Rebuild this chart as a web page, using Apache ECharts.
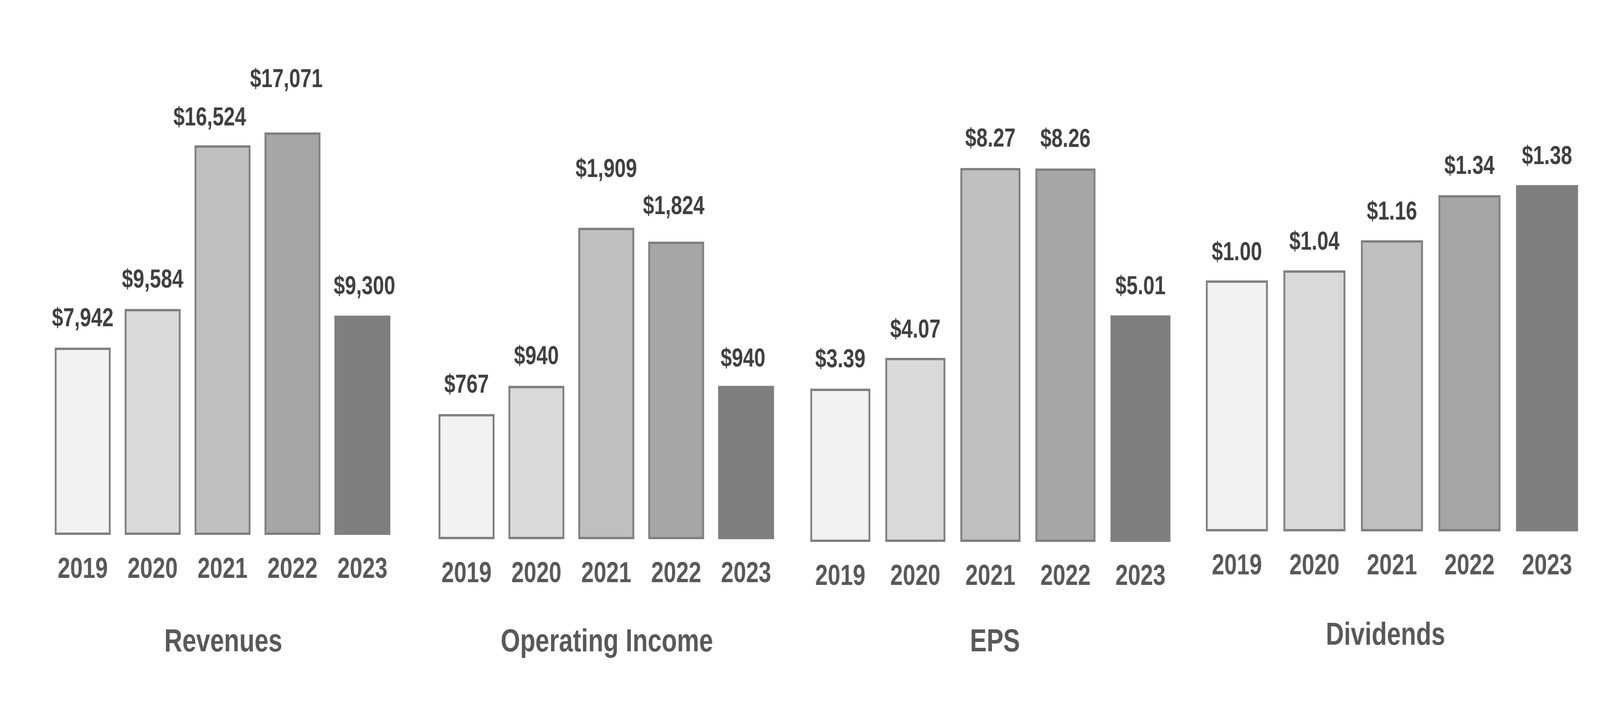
<!DOCTYPE html>
<html>
<head>
<meta charset="utf-8">
<script src="https://cdn.jsdelivr.net/npm/echarts/dist/echarts.min.js"></script>
<style>
  html, body { margin: 0; padding: 0; background: #ffffff; overflow: hidden; }
  #chart { position: absolute; left: 0; top: 0; width: 5252px; height: 1853px; transform-origin: 0 0; }
</style>
</head>
<body>
<div id="chart"></div>
<script>
// ---- data ----
const years = ['2019', '2020', '2021', '2022', '2023'];
const revenues = [7942, 9584, 16524, 17071, 9300];
const operatingIncome = [767, 940, 1909, 1824, 940];
const eps = [3.39, 4.07, 8.27, 8.26, 5.01];
const dividends = [1.00, 1.04, 1.16, 1.34, 1.38];
const panelTitles = ['Revenues', 'Operating Income', 'EPS', 'Dividends'];

// ---- styling / layout (designed for a 5252 x 1853 canvas) ----
const barColors = ['#f2f2f2', '#d9d9d9', '#bfbfbf', '#a6a6a6', '#7f7f7f'];
const FONT = '"Liberation Sans", Arial, Helvetica, sans-serif';
const W0 = 5252, H0 = 1853;

const fmtThousands = v => '$' + v.toLocaleString('en-US');
const fmtCents = v => '$' + v.toFixed(2);

const panels = [
  { values: revenues, fmt: fmtThousands, grid: { left: 156.75, width: 1147.5, top: 339, height: 1030 },
    titleX: 728, titleTop: 1598,
    labelOffsets: [[0, 0], [0, 0], [-42, 4], [-20, -61], [7, 0]] },
  { values: operatingIncome, fmt: fmtThousands, grid: { left: 1416.6, width: 1147, top: 583, height: 797 },
    titleX: 1987, titleTop: 1598,
    labelOffsets: [[0, 0], [0, -1], [0, -75], [-8, -16], [-10, 5]] },
  { values: eps, fmt: fmtCents, grid: { left: 2635.2, width: 1231.5, top: 430, height: 957 },
    titleX: 3261, titleTop: 1598,
    labelOffsets: [[0, 0], [0, 3], [0, 0], [0, 0], [0, 1]] },
  { values: dividends, fmt: fmtCents, grid: { left: 3932.75, width: 1272.5, top: 473.7, height: 886.3 },
    titleX: 4543, titleTop: 1581,
    labelOffsets: [[0, 3], [0, 2], [0, 2], [0, 0], [0, 1]] }
];

// The viewport may be narrower than the design size; scale the whole chart to fit it.
const el = document.getElementById('chart');
const vw = window.innerWidth || W0, vh = window.innerHeight || H0;
const sx = Math.min(1, vw / W0), sy = Math.min(1, vh / H0);
el.style.transform = 'scale(' + sx + ',' + sy + ')';

const grids = [], xAxes = [], yAxes = [], series = [], titles = [];

panels.forEach((p, i) => {
  grids.push(Object.assign({ containLabel: false }, p.grid));
  xAxes.push({
    type: 'category', gridIndex: i, data: years,
    axisLine: { show: false }, axisTick: { show: false },
    axisLabel: { fontFamily: FONT, fontWeight: 'bold', fontSize: 74, color: '#595959', margin: 53 }
  });
  yAxes.push({
    type: 'value', gridIndex: i, min: 0, max: Math.max(...p.values), show: false,
    splitLine: { show: false }
  });
  series.push({
    type: 'bar', xAxisIndex: i, yAxisIndex: i,
    barCategoryGap: '20%',
    data: p.values.map((v, j) => ({
      value: v,
      itemStyle: { color: barColors[j], borderColor: '#7f7f7f', borderWidth: 6 },
      label: { offset: p.labelOffsets[j] }
    })),
    label: {
      show: true, position: 'top', distance: 40,
      fontFamily: FONT, fontWeight: 'bold', fontSize: 66, color: '#404040',
      formatter: params => p.fmt(params.value)
    },
    silent: true, animation: false
  });
  titles.push({
    text: panelTitles[i], left: p.titleX, top: p.titleTop, textAlign: 'center',
    textStyle: { fontFamily: FONT, fontWeight: 'bold', fontSize: 82, color: '#595959' }
  });
});

const chart = echarts.init(el, null, { renderer: 'canvas', width: W0, height: H0 });
chart.setOption({
  backgroundColor: '#ffffff',
  animation: false,
  title: titles,
  grid: grids,
  xAxis: xAxes,
  yAxis: yAxes,
  series: series
});
</script>
</body>
</html>
